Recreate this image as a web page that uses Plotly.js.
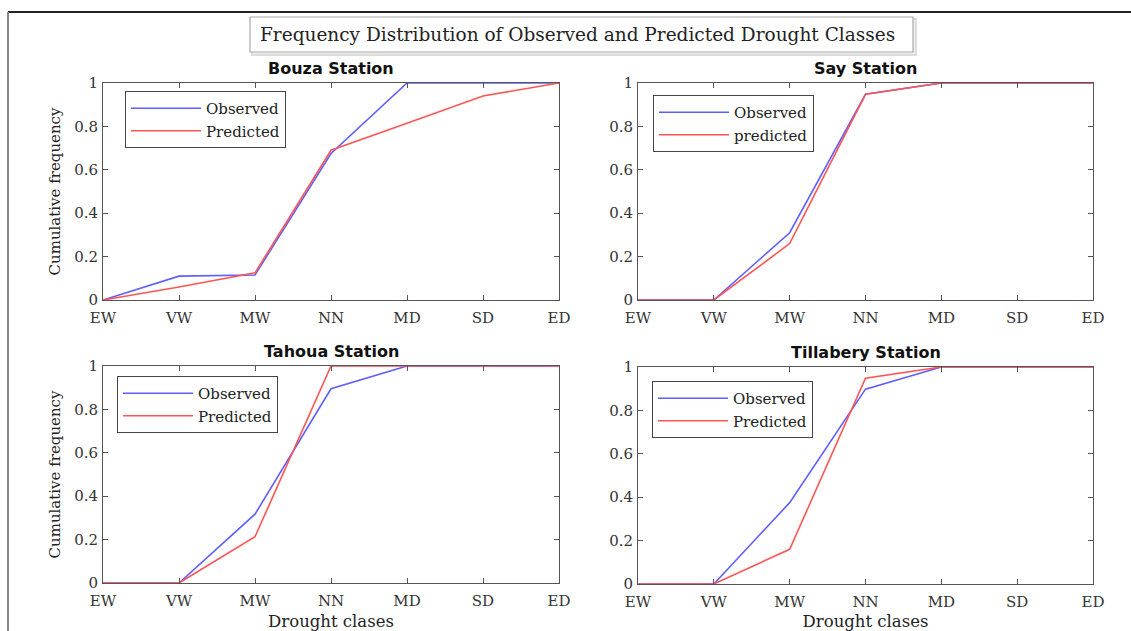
<!DOCTYPE html>
<html>
<head>
<meta charset="utf-8">
<script src="https://cdn.plot.ly/plotly-3.0.1.min.js"></script>
<style>html,body{margin:0;padding:0;background:#fff;}#chart{width:1131px;height:631px;}</style>
</head>
<body>
<div id="chart"></div>
<script>
// ---- data ----
const classes = ['EW','VW','MW','NN','MD','SD','ED'];
const stations = ['Bouza Station','Say Station','Tahoua Station','Tillabery Station'];
const bouzaObserved   = [0, 0.11, 0.115, 0.675, 1, 1, 1];
const bouzaPredicted  = [0, 0.06, 0.125, 0.69, 0.815, 0.94, 1];
const sayObserved     = [0, 0, 0.31, 0.948, 1, 1, 1];
const sayPredicted    = [0, 0, 0.26, 0.948, 1, 1, 1];
const tahouaObserved  = [0, 0, 0.317, 0.895, 1, 1, 1];
const tahouaPredicted = [0, 0, 0.213, 1, 1, 1, 1];
const tillaObserved   = [0, 0, 0.375, 0.898, 1, 1, 1];
const tillaPredicted  = [0, 0, 0.16, 0.948, 1, 1, 1];
const legendNames = [['Observed','Predicted'],['Observed','predicted'],['Observed','Predicted'],['Observed','Predicted']];
const yTitle = 'Cumulative frequency';
const xTitle = 'Drought clases';
const mainTitle = 'Frequency Distribution of Observed and Predicted Drought Classes';

// ---- layout helpers ----
const W = 1131, H = 631;
const px = v => v / W, py = v => 1 - v / H;
const SERIF = 'DejaVu Serif, Liberation Serif, serif';
const BLUE = 'rgb(95,95,255)', RED = 'rgb(255,85,85)';

const series = [
  [bouzaObserved, bouzaPredicted],
  [sayObserved, sayPredicted],
  [tahouaObserved, tahouaPredicted],
  [tillaObserved, tillaPredicted]
];
// pixel boxes of the four panels [left, right, top, bottom]
const boxes = [[103,559,83,300],[638,1093,83,300],[103,559,366,583],[638,1093,367,584]];
const legendPos = [[125,91],[653,95],[117,376],[652,381]];

const traces = [];
const layout = {
  width: W, height: H,
  margin: {l:0, r:0, t:0, b:0},
  paper_bgcolor: '#fff', plot_bgcolor: '#fff',
  showlegend: true,
  font: {family: SERIF, color: '#333'},
  shapes: [], annotations: []
};

series.forEach((pair, i) => {
  const n = i + 1;
  const xa = 'x' + (n === 1 ? '' : n), ya = 'y' + (n === 1 ? '' : n);
  const lg = 'legend' + (n === 1 ? '' : n);
  const colors = [BLUE, RED];
  pair.forEach((vals, j) => {
    traces.push({
      type: 'scatter', mode: 'lines', x: classes, y: vals,
      xaxis: xa, yaxis: ya, legend: lg, name: legendNames[i][j],
      line: {color: colors[j], width: 1.6}, hoverinfo: 'skip'
    });
  });
  const b = boxes[i];
  const axCommon = {
    showline: true, mirror: 'ticks', linecolor: '#555', linewidth: 1,
    ticks: 'inside', ticklen: 5, tickcolor: '#555', showgrid: false, zeroline: false,
    tickfont: {family: SERIF, size: 15, color: '#333'}, fixedrange: true
  };
  layout['xaxis' + (n === 1 ? '' : n)] = Object.assign({}, axCommon, {
    domain: [px(b[0]), px(b[1])], anchor: ya, type: 'category', range: [0, 6],
    ticklabelstandoff: 4,
    title: i >= 2 ? {text: xTitle, font: {family: SERIF, size: 16.5, color: '#222'}, standoff: 8} : {text: ''}
  });
  layout['yaxis' + (n === 1 ? '' : n)] = Object.assign({}, axCommon, {
    domain: [py(b[3]), py(b[2])], anchor: xa, range: [0, 1], dtick: 0.2,
    ticklabelstandoff: 1,
    title: (i % 2 === 0) ? {text: yTitle, font: {family: SERIF, size: 15, color: '#222'}, standoff: 9} : {text: ''}
  });
  layout[lg] = {
    x: px(legendPos[i][0]), y: py(legendPos[i][1]), xanchor: 'left', yanchor: 'top',
    bordercolor: '#444', borderwidth: 1, bgcolor: '#fff', itemwidth: 70,
    font: {family: SERIF, size: 15, color: '#222'}, tracegroupgap: 0
  };
  layout.annotations.push({
    xref: 'paper', yref: 'paper', x: px((b[0] + b[1]) / 2), y: py(b[2] - 15),
    text: '<b>' + stations[i] + '</b>', showarrow: false, xanchor: 'center', yanchor: 'middle',
    font: {family: 'DejaVu Sans, sans-serif', size: 16, color: '#111'}
  });
});

// outer frame (top and left edges visible)
layout.shapes.push({type:'line', xref:'paper', yref:'paper', x0:px(8), x1:px(1131), y0:py(12), y1:py(12), line:{color:'#222', width:2}});
layout.shapes.push({type:'line', xref:'paper', yref:'paper', x0:px(8), x1:px(8), y0:py(12), y1:py(631), line:{color:'#888', width:2}});
// title box with faint shadow
layout.shapes.push({type:'rect', xref:'paper', yref:'paper', x0:px(252), x1:px(916), y0:py(19), y1:py(55), line:{color:'#ddd', width:2}, fillcolor:'#eee'});
layout.shapes.push({type:'rect', xref:'paper', yref:'paper', x0:px(250), x1:px(913), y0:py(17), y1:py(52), line:{color:'#aaa', width:1.2}, fillcolor:'#fff'});
layout.annotations.push({
  xref:'paper', yref:'paper', x: px(577), y: py(34), text: mainTitle, showarrow:false,
  xanchor:'center', yanchor:'middle', font:{family: SERIF, size: 18.5, color:'#222'}
});

Plotly.newPlot('chart', traces, layout, {displayModeBar: false, staticPlot: true});
</script>
</body>
</html>
